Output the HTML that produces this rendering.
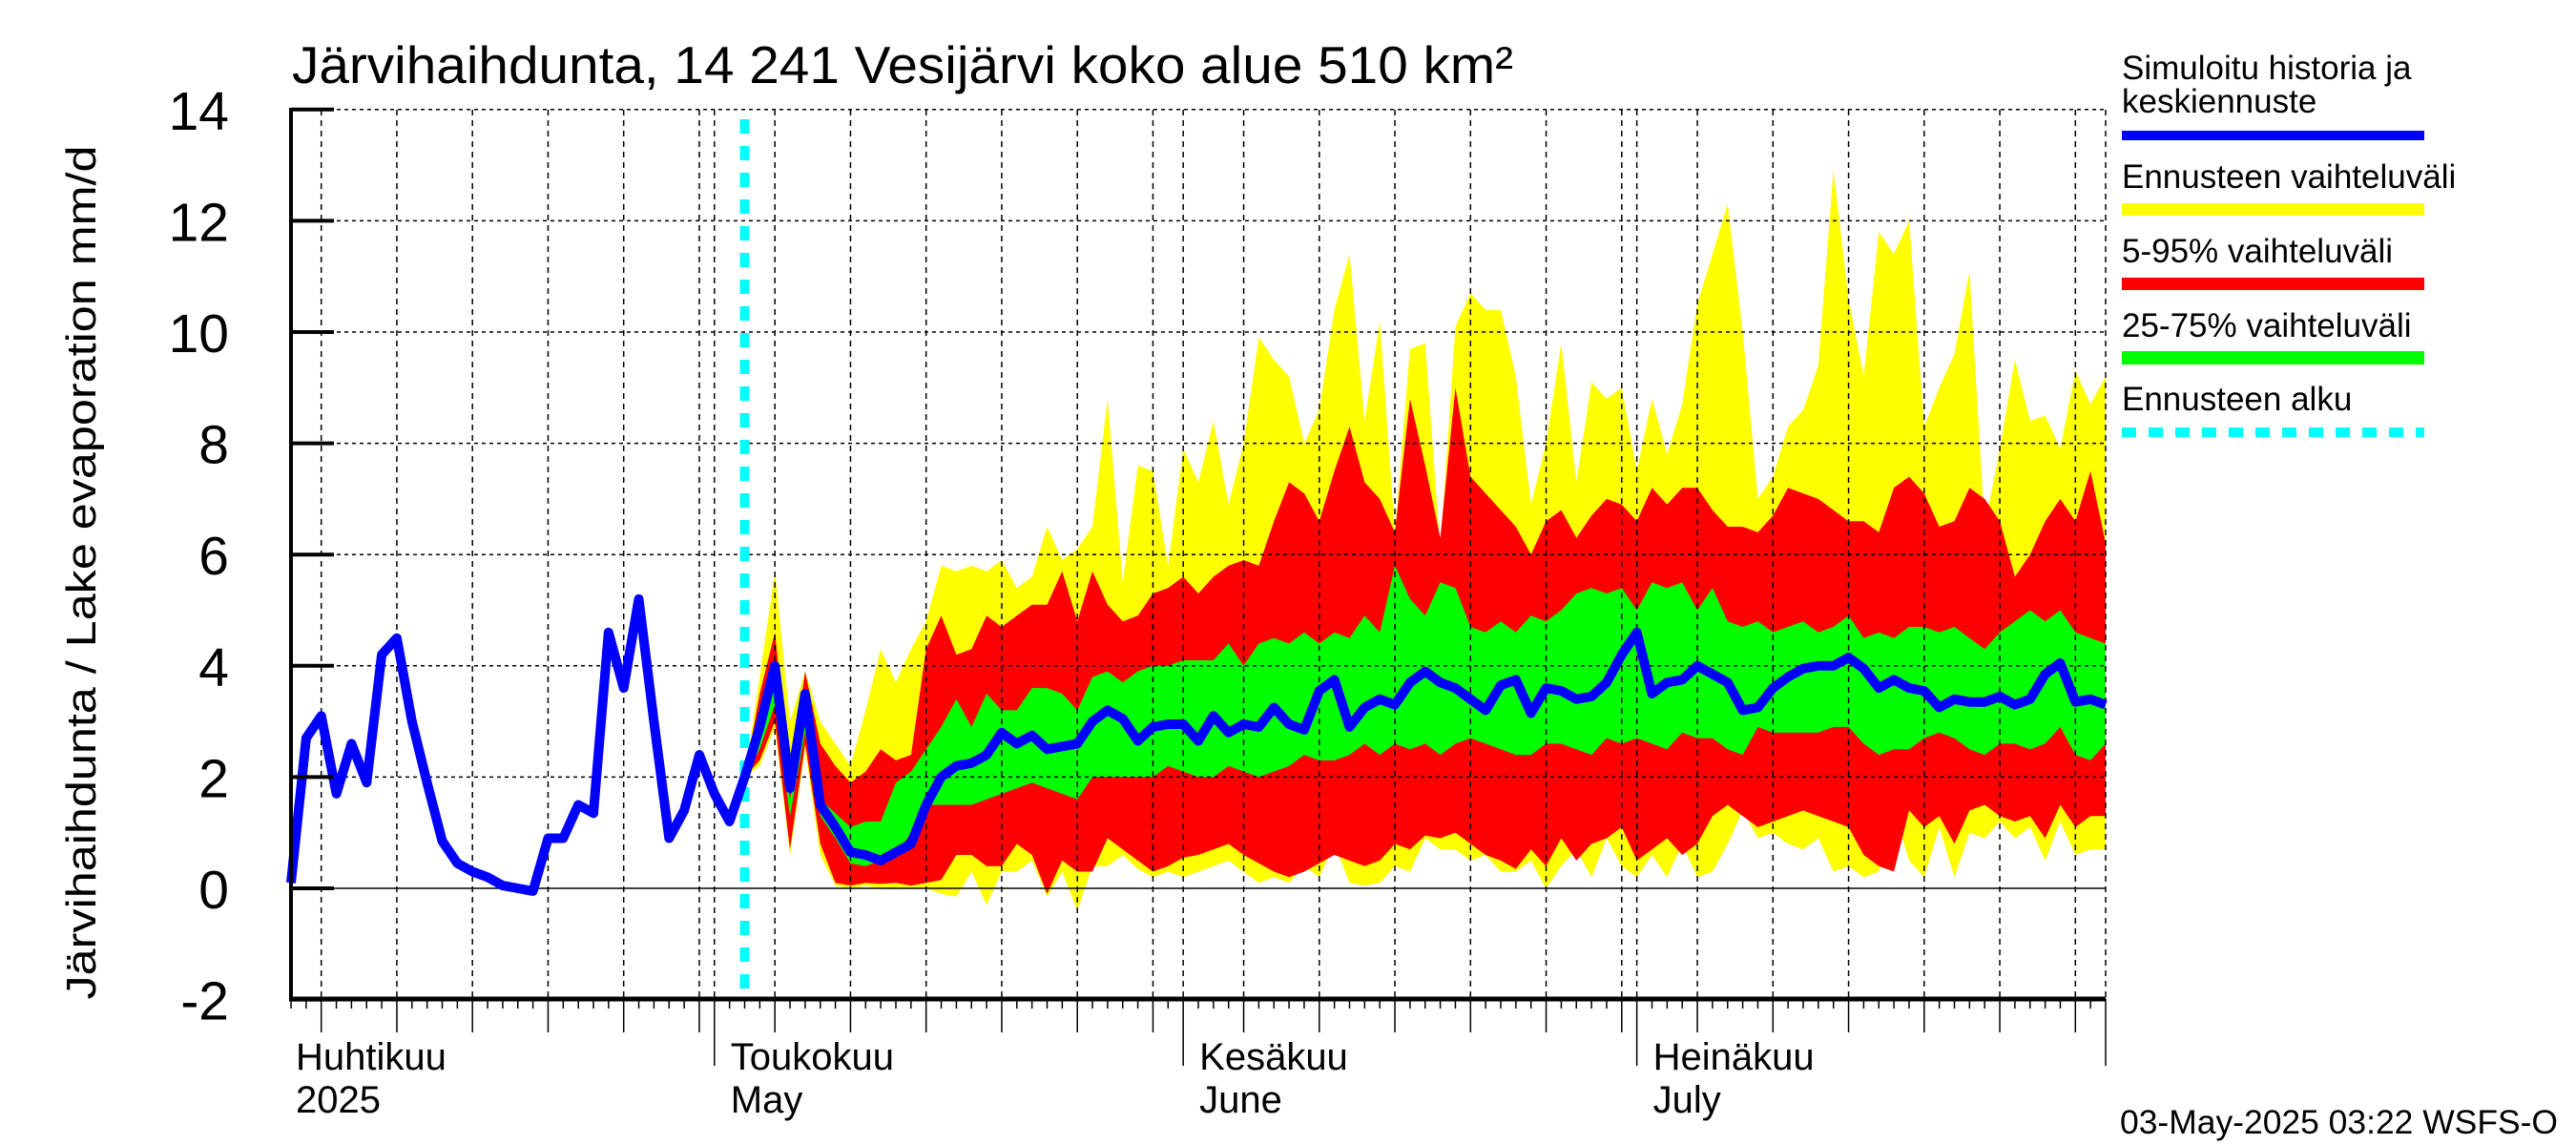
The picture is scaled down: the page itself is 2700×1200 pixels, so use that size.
<!DOCTYPE html>
<html><head><meta charset="utf-8"><style>
html,body{margin:0;padding:0;background:#fff;}
svg{display:block;}
text{font-family:"Liberation Sans",sans-serif;fill:#000;}
</style></head><body>
<svg id="chart" width="2700" height="1200" viewBox="0 0 2700 1200" xmlns="http://www.w3.org/2000/svg">
<rect x="0" y="0" width="2700" height="1200" fill="#fff"/>
<g id="bands"></g>
<g id="grid"></g>
<g id="lines"></g>
<g id="axes"></g>
<text x="306" y="87" font-size="55" textLength="1280" lengthAdjust="spacingAndGlyphs">Järvihaihdunta, 14 241 Vesijärvi koko alue 510 km²</text>
<text transform="translate(100,600) rotate(-90)" text-anchor="middle" font-size="44" textLength="895" lengthAdjust="spacingAndGlyphs">Järvihaihdunta / Lake evaporation   mm/d</text>
<g>
<text x="2224" y="83" font-size="35">Simuloitu historia ja</text>
<text x="2224" y="118" font-size="35">keskiennuste</text>
<rect x="2224" y="137" width="317" height="10" fill="#0000ff"/>
<text x="2224" y="197" font-size="35">Ennusteen vaihteluväli</text>
<rect x="2224" y="213" width="317" height="13" fill="#ffff00"/>
<text x="2224" y="275" font-size="35">5-95% vaihteluväli</text>
<rect x="2224" y="291" width="317" height="13" fill="#ff0000"/>
<text x="2224" y="353" font-size="35">25-75% vaihteluväli</text>
<rect x="2224" y="368" width="317" height="14" fill="#00ff00"/>
<text x="2224" y="430" font-size="35">Ennusteen alku</text>
<line x1="2224" y1="453" x2="2541" y2="453" stroke="#00ffff" stroke-width="10" stroke-dasharray="15 13"/>
</g>
<text x="2222" y="1188" font-size="35" textLength="459" lengthAdjust="spacingAndGlyphs">03-May-2025 03:22 WSFS-O</text>
</svg>
<script>
const yTicks = [-2, 0, 2, 4, 6, 8, 10, 12, 14];
const months = [
  {idx: -2, fi: "Huhtikuu", en: "2025"},
  {idx: 28, fi: "Toukokuu", en: "May"},
  {idx: 59, fi: "Kesäkuu", en: "June"},
  {idx: 89, fi: "Heinäkuu", en: "July"}
];
const gridDays = [2,7,12,17,22,27,28,32,37,42,47,52,57,59,63,68,73,78,83,88,89,93,98,103,108,113,118,120];
const forecastStartIdx = 30;
const median = [0.1,2.7,3.1,1.7,2.6,1.9,4.2,4.5,3.0,1.9,0.85,0.45,0.3,0.2,0.05,0.0,-0.05,0.9,0.9,1.5,1.35,4.6,3.6,5.2,3.0,0.9,1.4,2.4,1.7,1.2,
2.0,2.9,4.0,1.8,3.5,1.5,1.1,0.65,0.6,0.5,0.65,0.8,1.5,2.0,2.2,2.25,2.4,2.8,2.6,2.75,2.5,2.55,2.6,3.0,3.2,3.05,2.65,2.9,2.95,2.95,2.65,3.1,2.8,2.95,2.9,3.25,2.95,2.85,3.55,3.75,2.9,3.25,3.4,3.3,3.7,3.9,3.7,3.6,3.4,3.2,3.65,3.75,3.15,3.6,3.55,3.4,3.45,3.7,4.2,4.6,3.5,3.7,3.75,4.0,3.85,3.7,3.2,3.25,3.6,3.8,3.95,4.0,4.0,4.15,3.95,3.6,3.75,3.6,3.55,3.25,3.4,3.35,3.35,3.45,3.3,3.4,3.85,4.05,3.35,3.4,3.3];
const rangeMax = [2.0,3.8,5.7,3.0,3.9,3.0,2.6,2.2,3.2,4.3,3.7,4.3,4.8,5.8,5.7,5.8,5.7,5.9,5.4,5.6,6.5,5.9,6.1,6.5,8.8,5.5,7.6,7.5,5.8,7.9,7.3,8.4,6.9,8.0,9.9,9.5,9.2,8.0,8.6,10.4,11.4,8.4,10.2,6.4,9.7,9.8,6.1,10.1,10.7,10.4,10.4,9.2,6.9,8.0,9.8,7.3,9.1,8.8,9.0,7.5,8.8,7.8,8.7,10.5,11.4,12.3,10.0,7.0,7.4,8.3,8.6,9.4,12.9,10.6,9.2,11.8,11.4,12.0,8.3,9.0,9.6,11.1,6.5,7.9,9.5,8.4,8.5,7.9,9.3,8.7,9.2];
const p95 = [2.0,3.5,4.6,2.0,3.9,2.6,2.2,1.9,2.1,2.5,2.3,2.4,4.3,4.9,4.2,4.3,4.9,4.7,4.9,5.1,5.1,5.7,4.8,5.7,5.1,4.8,4.9,5.3,5.4,5.6,5.3,5.6,5.8,5.9,5.8,6.6,7.3,7.1,6.6,7.5,8.3,7.3,7.0,6.4,8.8,7.6,6.3,9.0,7.4,7.1,6.8,6.5,6.0,6.6,6.8,6.3,6.7,7.0,6.9,6.6,7.2,6.9,7.2,7.2,6.8,6.5,6.5,6.4,6.7,7.2,7.1,7.0,6.8,6.6,6.6,6.4,7.2,7.4,7.1,6.5,6.6,7.2,7.0,6.6,5.6,6.0,6.6,7.0,6.6,7.5,6.2];
const p75 = [2.0,2.9,3.6,1.6,3.0,1.6,1.35,1.1,1.2,1.2,1.9,2.1,2.5,2.9,3.4,2.9,3.5,3.2,3.2,3.6,3.6,3.5,3.2,3.8,3.9,3.7,3.9,4.0,4.0,4.1,4.1,4.1,4.4,4.0,4.4,4.5,4.4,4.6,4.4,4.6,4.5,4.9,4.6,5.8,5.2,4.9,5.5,5.4,4.7,4.6,4.8,4.6,4.9,4.8,5.0,5.3,5.4,5.3,5.4,5.0,5.5,5.4,5.5,5.0,5.4,4.8,4.7,4.8,4.6,4.7,4.8,4.6,4.7,4.9,4.5,4.6,4.5,4.7,4.7,4.6,4.7,4.5,4.3,4.6,4.8,5.0,4.8,5.0,4.6,4.5,4.4];
const p25 = [2.0,2.5,3.3,1.3,2.8,1.3,0.9,0.45,0.4,0.5,0.6,1.0,1.5,1.5,1.5,1.5,1.6,1.7,1.8,1.9,1.8,1.7,1.6,2.0,2.0,2.0,2.0,2.0,2.2,2.1,2.0,2.0,2.2,2.1,2.0,2.1,2.2,2.4,2.3,2.3,2.4,2.6,2.4,2.6,2.5,2.6,2.4,2.6,2.7,2.6,2.5,2.4,2.4,2.6,2.6,2.5,2.4,2.7,2.6,2.7,2.6,2.5,2.8,2.7,2.7,2.5,2.4,2.9,2.8,2.8,2.8,2.8,2.9,2.9,2.6,2.4,2.5,2.5,2.7,2.8,2.7,2.5,2.4,2.6,2.6,2.5,2.6,2.9,2.4,2.3,2.6];
const p5 = [2.0,2.3,3.0,0.7,2.6,0.8,0.1,0.05,0.1,0.08,0.1,0.05,0.1,0.15,0.6,0.6,0.4,0.4,0.8,0.6,-0.1,0.5,0.3,0.3,0.9,0.7,0.5,0.3,0.4,0.55,0.6,0.7,0.8,0.6,0.45,0.3,0.2,0.3,0.45,0.6,0.5,0.4,0.5,0.8,0.7,0.95,0.9,1.0,0.8,0.6,0.5,0.35,0.7,0.4,0.9,0.5,0.8,0.9,1.1,0.5,0.7,0.9,0.6,0.8,1.3,1.5,1.3,1.1,1.2,1.3,1.4,1.3,1.2,1.1,0.6,0.4,0.3,1.4,1.1,1.3,0.8,1.4,1.5,1.3,1.2,1.3,0.9,1.5,1.1,1.3,1.3];
const rangeMin = [2.0,2.2,2.9,0.6,2.5,0.6,0.05,0.0,0.05,0.0,0.0,0.0,0.0,-0.1,-0.15,0.3,-0.3,0.3,0.3,0.5,-0.15,0.3,-0.4,0.4,0.4,0.6,0.35,0.2,0.3,0.2,0.3,0.4,0.5,0.3,0.1,0.2,0.1,0.4,0.2,0.8,0.1,0.05,0.1,0.4,0.3,0.9,0.7,0.7,0.5,0.6,0.3,0.3,0.5,0.0,0.4,0.7,0.2,0.9,0.4,0.2,0.6,0.2,0.8,0.2,0.3,0.8,1.4,0.9,1.0,0.8,0.7,0.9,0.3,0.4,0.2,0.3,1.4,0.5,0.2,1.1,0.2,1.0,0.9,1.2,0.9,1.1,0.5,1.2,0.6,0.7,0.7];

const X0 = 305, DX = 15.85, Y0 = 931, DY = 58.3, XR = 2207, YT = 115, YB = 1047;
const xs = i => X0 + i * DX;
const ys = v => Y0 - v * DY;
const NS = "http://www.w3.org/2000/svg";
function mk(tag, attrs, parent){ const e = document.createElementNS(NS, tag); for (const k in attrs) e.setAttribute(k, attrs[k]); parent.appendChild(e); return e; }

const bands = document.getElementById('bands');
function band(upper, lower, color, name){
  let pts = [];
  upper.forEach((v,i)=>pts.push(xs(forecastStartIdx+i).toFixed(1)+','+ys(v).toFixed(1)));
  for (let i=lower.length-1;i>=0;i--) pts.push(xs(forecastStartIdx+i).toFixed(1)+','+ys(lower[i]).toFixed(1));
  const p = mk('polygon', {points: pts.join(' '), fill: color}, bands);
  
  
}
band(rangeMax, rangeMin, '#ffff00', 'band-range');
band(p95, p5, '#ff0000', 'band-p5-95');
band(p75, p25, '#00ff00', 'band-p25-75');

const grid = document.getElementById('grid');
yTicks.forEach(t=>{
  if (t === -2) return;
  const l = mk('line', {x1: X0, x2: XR, y1: ys(t), y2: ys(t), stroke:'#000', 'stroke-width': 1.5, 'stroke-dasharray': t===0 ? 'none' : '4 4'}, grid);
  
  
});
gridDays.forEach(d=>{
  const l = mk('line', {x1: xs(d), x2: xs(d), y1: YT, y2: YB, stroke:'#000', 'stroke-width': 1.5, 'stroke-dasharray': '6 5'}, grid);
  
  
});
const cy = mk('line', {x1: xs(forecastStartIdx), x2: xs(forecastStartIdx), y1: 125, y2: YB, stroke:'#00ffff', 'stroke-width': 10, 'stroke-dasharray': '15 13'}, grid);



const lines = document.getElementById('lines');
const mp = median.map((v,i)=>xs(i).toFixed(1)+','+ys(v).toFixed(1)).join(' ');
const ml = mk('polyline', {points: mp, fill:'none', stroke:'#0000ff', 'stroke-width': 10, 'stroke-linejoin':'round'}, lines);



const axes = document.getElementById('axes');
const la = mk('line', {x1: X0, x2: X0, y1: YT-2, y2: YB+2, stroke:'#000', 'stroke-width': 4}, axes);


const ba = mk('line', {x1: X0-2, x2: XR, y1: YB, y2: YB, stroke:'#000', 'stroke-width': 5}, axes);


yTicks.forEach(t=>{
  const tk = mk('line', {x1: X0, x2: X0+45, y1: ys(t), y2: ys(t), stroke:'#000', 'stroke-width': 4}, axes);
  
  
  const tx = mk('text', {x: 240, y: ys(t)+21, 'text-anchor':'end', 'font-size': 57}, axes);
  tx.textContent = String(t);
  
  
});
for (let d=0; d<=120; d++){
  const isMonth = months.some(m=>m.idx===d) || d===120;
  const isGrid = gridDays.includes(d);
  const len = isMonth ? 70 : (isGrid ? 35 : 10);
  const tk = mk('line', {x1: xs(d), x2: xs(d), y1: YB, y2: YB+len, stroke:'#000', 'stroke-width': 1.5}, axes);
  
  
}
months.forEach(m=>{
  const x = Math.max(X0+5, xs(m.idx)+17);
  const a = mk('text', {x: x, y: 1121, 'font-size': 40}, axes);
  a.textContent = m.fi;
  
  
  const b = mk('text', {x: x, y: 1166, 'font-size': 40}, axes);
  b.textContent = m.en;
  
  
});
</script>
</body></html>
